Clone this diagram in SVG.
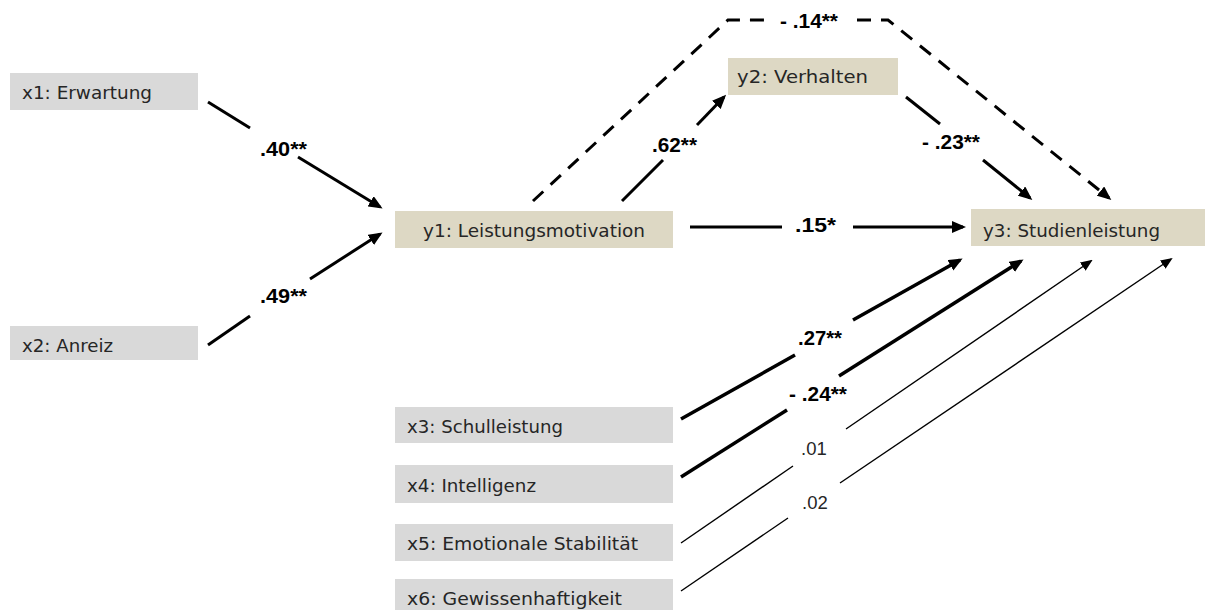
<svg xmlns="http://www.w3.org/2000/svg" width="1205" height="610" viewBox="0 0 1205 610">
<style>
.bx{fill:#d9d9d9}
.by{fill:#ddd8c4}
.nt{font-family:"DejaVu Sans","Liberation Sans",sans-serif;font-size:18.5px;fill:#262626}
.lb{font-family:"Liberation Sans",Arial,sans-serif;font-size:20px;font-weight:bold;fill:#000}
.ln{font-family:"Liberation Sans",Arial,sans-serif;font-size:18.5px;fill:#262626}
.c{fill:none;stroke:#000;stroke-width:3}
.ck{fill:none;stroke:#000;stroke-width:3.5}
.cn{fill:none;stroke:#000;stroke-width:1.4}
.cd{fill:none;stroke:#000;stroke-width:3;stroke-dasharray:14 10}
</style>
<defs>
<marker id="ah" markerUnits="userSpaceOnUse" markerWidth="14" markerHeight="12" viewBox="0 0 14 12" refX="11" refY="6" orient="auto"><path d="M0,0 L14,6 L0,12 z" fill="#000"/></marker>
<marker id="ahs" markerUnits="userSpaceOnUse" markerWidth="12" markerHeight="10" viewBox="0 0 12 10" refX="10" refY="5" orient="auto"><path d="M0,0 L12,5 L0,10 z" fill="#000"/></marker>
</defs>
<g id="x1"><rect class="bx" x="10" y="73" width="188" height="37"/><text class="nt" x="22" y="99" textLength="130" lengthAdjust="spacingAndGlyphs">x1: Erwartung</text></g>
<g id="x2"><rect class="bx" x="10" y="326" width="188" height="34"/><text class="nt" x="22" y="352" textLength="91" lengthAdjust="spacingAndGlyphs">x2: Anreiz</text></g>
<g id="y1"><rect class="by" x="395" y="211" width="278" height="37"/><text class="nt" x="423" y="237" textLength="222" lengthAdjust="spacingAndGlyphs">y1: Leistungsmotivation</text></g>
<g id="y2"><rect class="by" x="728" y="58" width="170" height="37"/><text class="nt" x="737" y="83" textLength="131" lengthAdjust="spacingAndGlyphs">y2: Verhalten</text></g>
<g id="y3"><rect class="by" x="971" y="209" width="234" height="37"/><text class="nt" x="983" y="237" textLength="177" lengthAdjust="spacingAndGlyphs">y3: Studienleistung</text></g>
<g id="x3"><rect class="bx" x="395" y="407" width="278" height="36"/><text class="nt" x="407" y="433" textLength="156" lengthAdjust="spacingAndGlyphs">x3: Schulleistung</text></g>
<g id="x4"><rect class="bx" x="395" y="465" width="278" height="38"/><text class="nt" x="407" y="492" textLength="129" lengthAdjust="spacingAndGlyphs">x4: Intelligenz</text></g>
<g id="x5"><rect class="bx" x="395" y="524" width="278" height="37"/><text class="nt" x="407" y="550" textLength="231" lengthAdjust="spacingAndGlyphs">x5: Emotionale Stabilität</text></g>
<g id="x6"><rect class="bx" x="395" y="579" width="278" height="31"/><text class="nt" x="407" y="605" textLength="215" lengthAdjust="spacingAndGlyphs">x6: Gewissenhaftigkeit</text></g>
<g id="connectors">
<path class="c" d="M208,102 L250,128"/>
<path class="c" d="M298,157 L380,207" marker-end="url(#ah)"/>
<text class="lb" x="260" y="156" textLength="47" lengthAdjust="spacingAndGlyphs">.40**</text>
<path class="c" d="M208,345 L250,316"/>
<path class="c" d="M310,279 L380,234" marker-end="url(#ah)"/>
<text class="lb" x="260" y="303" textLength="47" lengthAdjust="spacingAndGlyphs">.49**</text>
<path class="c" d="M622,201 L663,160"/>
<path class="c" d="M697,125 L724,97" marker-end="url(#ah)"/>
<text class="lb" x="652" y="152" textLength="45" lengthAdjust="spacingAndGlyphs">.62**</text>
<path class="cd" d="M533,201 L728,20 L773,20"/>
<path class="cd" d="M857,20 L888,20 L1109,198" marker-end="url(#ah)"/>
<text class="lb" x="780" y="28" textLength="58" lengthAdjust="spacingAndGlyphs">- .14**</text>
<path class="c" d="M906,97 L940,124"/>
<path class="c" d="M983,160 L1030,198" marker-end="url(#ah)"/>
<text class="lb" x="922" y="149" textLength="58" lengthAdjust="spacingAndGlyphs">- .23**</text>
<path class="c" d="M690,227 L782,227"/>
<path class="c" d="M853,227 L963,227" marker-end="url(#ah)"/>
<text class="lb" x="795" y="232" textLength="41" lengthAdjust="spacingAndGlyphs">.15*</text>
<path class="ck" d="M681,419 L795,355"/>
<path class="ck" d="M853,320 L960,260" marker-end="url(#ah)"/>
<text class="lb" x="798" y="345" textLength="44" lengthAdjust="spacingAndGlyphs">.27**</text>
<path class="ck" d="M681,477 L787,410"/>
<path class="ck" d="M839,376 L1021,261" marker-end="url(#ah)"/>
<text class="lb" x="789" y="401" textLength="58" lengthAdjust="spacingAndGlyphs">- .24**</text>
<path class="cn" d="M681,543 L793,466"/>
<path class="cn" d="M846,429 L1091,261" marker-end="url(#ahs)"/>
<text class="ln" x="801" y="455">.01</text>
<path class="cn" d="M681,591 L788,518"/>
<path class="cn" d="M840,483 L1171,259" marker-end="url(#ahs)"/>
<text class="ln" x="802" y="509">.02</text>
</g>
</svg>
